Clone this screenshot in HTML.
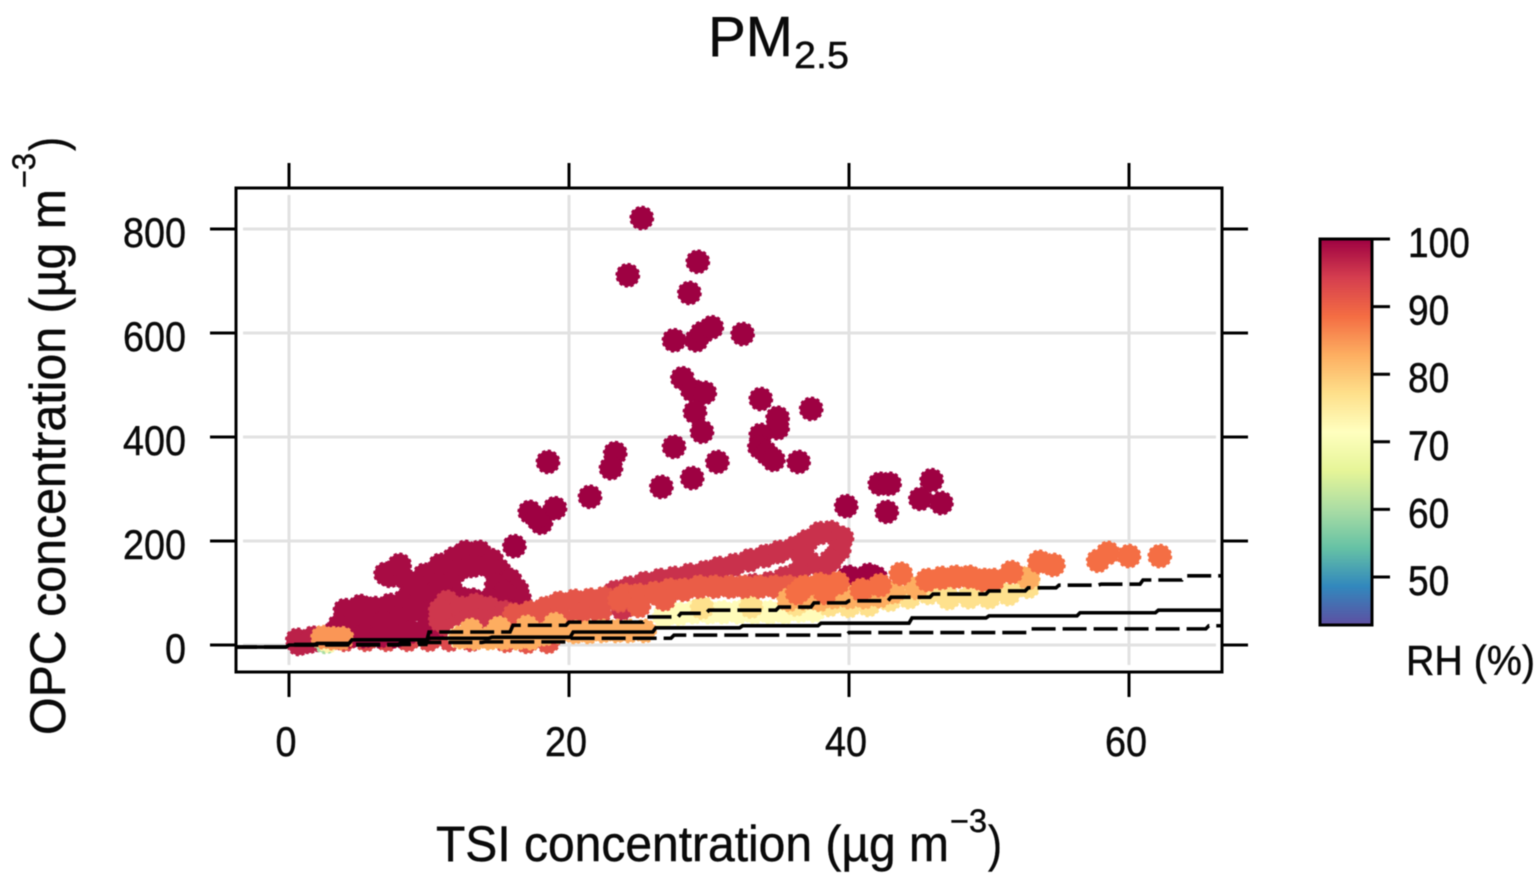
<!DOCTYPE html>
<html lang="en">
<head>
<meta charset="utf-8">
<title>PM2.5 TSI vs OPC concentration</title>
<style>
html,body{margin:0;padding:0;background:#fff;width:1540px;height:878px;overflow:hidden}
svg{display:block;filter:blur(.5px)}
text{font-family:"Liberation Sans",Arial,sans-serif;fill:#0a0a0a;stroke:#0a0a0a;stroke-width:.45px}
</style>
</head>
<body>
<svg id="chart" xmlns="http://www.w3.org/2000/svg" width="1540" height="878" viewBox="0 0 1540 878">
  <defs>
    <linearGradient id="rhGradient" x1="0" y1="1" x2="0" y2="0"></linearGradient>
    <clipPath id="plotClip"><rect x="236" y="188" width="986" height="484"></rect></clipPath>
  </defs>
  <g id="titleGroup">
    <text x="708" y="56" font-size="57" textLength="85" lengthAdjust="spacingAndGlyphs">PM</text>
    <text x="794" y="68" font-size="38" textLength="55" lengthAdjust="spacingAndGlyphs">2.5</text>
  </g>
  <g id="gridLayer"></g>
  <g id="markLayer" clip-path="url(#plotClip)"></g>
  <g id="fitLayer" clip-path="url(#plotClip)"></g>
  <rect x="236" y="188" width="986" height="484" fill="none" stroke="#000" stroke-width="3"></rect>
  <g id="axisLayer"></g>
  <g>
    <text transform="translate(65 735) rotate(-90)" font-size="50" textLength="546" lengthAdjust="spacingAndGlyphs">OPC concentration (µg m</text>
    <text transform="translate(35 188) rotate(-90)" font-size="32" textLength="35" lengthAdjust="spacingAndGlyphs">−3</text>
    <text transform="translate(65 151) rotate(-90)" font-size="50" textLength="14" lengthAdjust="spacingAndGlyphs">)</text>
  </g>
  <g>
    <text x="436" y="861" font-size="50" textLength="513" lengthAdjust="spacingAndGlyphs">TSI concentration (µg m</text>
    <text x="950" y="832" font-size="32" textLength="37" lengthAdjust="spacingAndGlyphs">−3</text>
    <text x="988" y="861" font-size="50" textLength="14" lengthAdjust="spacingAndGlyphs">)</text>
  </g>
  <g id="legendLayer"></g>
  <text x="1406" y="675" font-size="42" textLength="129" lengthAdjust="spacingAndGlyphs">RH (%)</text>
</svg>
<script>
// Axis ticks
const xTicks = [0, 20, 40, 60];
const yTicks = [0, 200, 400, 600, 800];
const rhTicks = [100, 90, 80, 70, 60, 50];

// Spectral colour ramp (low to high RH)
const spectralColors = ['#5e4fa2','#3288bd','#66c2a5','#abdda4','#e6f598','#ffffbf','#fee08b','#fdae61','#f46d43','#d53e4f','#9e0142'];

// Fit lines (stepped)
const midTsi   = [-4, 0, 2, 4.5, 10, 14.5, 20.3, 26.2, 32.4, 38, 44.5, 50, 56.5, 62.1, 67];
const midOpc   = [-4, 0, 3, 10, 13, 15, 25, 33, 37, 42, 52, 56, 62, 67, 67];
const upperTsi = [-4, 0, 10, 16, 20, 25.5, 28, 30, 35, 37.5, 40, 43, 46, 50, 52.8, 55, 58, 61, 64, 67];
const upperOpc = [-4, 1, 25, 38, 44, 54, 61, 67, 73, 81, 85, 92, 98, 104, 110, 115, 117, 125, 133, 133];
const lowerTsi = [-4, 0, 8, 14, 20, 27.5, 40, 52.9, 65.7, 67];
const lowerOpc = [-4, 0, 5, 6, 13, 19, 24, 31, 37, 37];

// Scatter series: RH level, TSI values, OPC values
const darkRh = 100;
const darkTsi = [25.2,29.2,24.2,28.6,27.5,29.1,29.5,30.2,32.4,28.1,28.8,29.7,29.0,29.5,27.5,30.6,28.8,26.6,33.7,34.9,34.9,33.7,33.6,34.1,34.6,36.4,37.3,23.3,23.0,18.5,21.5,17.2,18.0,19.0,17.7,16.1,39.8,42.2,42.9,42.7,45.9,45.1,46.6,41.4,40.0,40.7,41.9];
const darkOpc = [821,737,711,677,586,586,600,611,598,513,490,485,448,410,381,352,321,304,473,437,417,404,381,369,356,352,454,369,340,352,285,256,235,263,244,190,267,310,310,256,317,281,273,135,131,125,130];

const rowRh = 93;
const rowTsi = [4,5.5,7,8.5,10,11.5,13];
const rowOpc = [10,10,10,10,10,10,10];

const blobRh = 99;
const blobTsi = [7.7,7.2,8.6,9.7,10.8,11.8,12.6,13.6,14.5,15.0,15.8,16.3,16.5,12.1,14.2,11.5,14.8,15.4,13.1,12.1,14.3,10.8,10.0,11.1,4.0,5.1,6.1,7.2,8.3,9.3,3.6,4.7,5.8,6.8,7.9,9.0,10.1,11.1,4.4,5.4,6.5,7.6,8.6,9.7,10.8,11.8,3.3,6.9,7.9,7.9,9.0,13.1,15.2];
const blobOpc = [146,133,121,135,154,167,179,179,163,144,125,106,87,144,152,117,115,102,87,92,87,115,96,87,67,75,71,77,87,102,38,44,44,44,52,67,63,63,17,17,17,17,25,29,33,38,25,137,135,154,115,152,75];

const edgeRh = 97;
const edgeTsi = [0.6,1.4,0.7,2.1,1.7];
const edgeOpc = [10,6,2,10,14];

const loopRh = 95.5;
const loopTsi = [23.3,24.3,25.4,26.5,27.5,28.6,29.7,30.7,31.8,32.9,34.0,35.0,36.1,37.0,37.9,38.7,39.5,39.3,38.7,38.2,37.2,36.4,35.4,34.3,33.2,36.7,23.8];
const loopOpc = [102,110,119,125,129,135,140,148,154,163,171,179,187,200,215,217,206,183,163,148,158,140,129,119,115,173,70];

const brownRh = 95;
const brownTsi = [11.3,11.5,12.3,13.3,14.3,15.4,12.6,13.6,14.7,11.3,10.8,10.8];
const brownOpc = [83,58,71,77,71,63,44,48,44,38,48,67];

const bandRh = 91.5;
const bandTsi = [16.1,17.2,18.3,19.3,20.4,21.5,22.5,16.5,17.9,19.3,20.8,22.2,23.6,15.5,17,18.5];
const bandOpc = [58,63,71,81,85,87,90,38,44,52,60,63,85,8,6,6];

const orangeRh = 90.5;
const orangeTsi = [24,25,26.1,27.2,28.2,29.3,30.4,31.5,32.5,33.6,34.7,35.7,25,26.8,23.6];
const orangeOpc = [96,96,100,106,106,112,112,112,112,112,112,112,75,88,88];

const warmRh = 88.5;
const warmTsi = [36.8,37.9,39.2,36.3,38.3,40.9,42.2,43.7,45.6,46.6,47.6,48.6,49.6,50.3,51.6,53.6,54.6,57.8,58.5,60,62.2];
const warmOpc = [112,117,119,100,100,106,115,137,125,129,131,131,125,125,140,160,154,162,177,171,171];

const paleRh = 72;
const paleTsi = [26.8,27.9,28.9,30,31,32.1,33.2,34.3,35.4,36.5,37.5,12.2];
const paleOpc = [55,60,63,63,63,63,63,63,63,66,66,15];

const yellowRh = 77;
const yellowTsi = [38.6,40,41.4,42.9,44.3,45.7,47.1,48.6,50,51.4,52.8,29.5,33,36.2];
const yellowOpc = [77,75,77,87,92,100,90,92,92,98,112,72,74,78];

const lightRh = 83;
const lightTsi = [35.7,36.8,37.9,38.9,40,41.1,42.2,43.2,44.8,52.8];
const lightOpc = [87,90,87,92,92,92,94,102,110,129];

const stripRh = 83;
const stripTsi = [12.3,13.3,14.3,15.3,16.3,17.3,18.3,19.3,20.4,21.4,22.4,23.4,24.3,25.4,13,15,17,19];
const stripOpc = [15,13,13,13,13,13,21,25,25,25,27,27,27,27,29,33,35,40];

const greenRh = 60;
const greenTsi = [2.6];
const greenOpc = [6];

const paleLeftRh = 73;
const paleLeftTsi = [2.8];
const paleLeftOpc = [8];

const amberRh = 85;
const amberTsi = [3.1,2.4,3.8];
const amberOpc = [13,15,13];

// Axis and colour scales
function xScale(v){ return 289 + v * 14.0; }
function yScale(v){ return 645 - v * 0.52; }
function rhScale(v){ return 239 + (100 - v) * 6.76; }
function hexToRgb(h){ return [1,3,5].map(function(i){ return parseInt(h.substr(i,2),16); }); }
function rhColor(v){
  var t = (v - 43) / 57 * (spectralColors.length - 1);
  t = Math.max(0, Math.min(spectralColors.length - 1, t));
  var i = Math.min(Math.floor(t), spectralColors.length - 2);
  var a = hexToRgb(spectralColors[i]), b = hexToRgb(spectralColors[i + 1]), f = t - i;
  return 'rgb(' + a.map(function(c, k){ return Math.round(c + (b[k] - c) * f); }).join(',') + ')';
}
const NS = 'http://www.w3.org/2000/svg';
function make(tag, attrs, parent){
  var el = document.createElementNS(NS, tag);
  Object.keys(attrs).forEach(function(k){ el.setAttribute(k, attrs[k]); });
  parent.appendChild(el);
  return el;
}
const gridLayer = document.getElementById('gridLayer');
const axisLayer = document.getElementById('axisLayer');
const markLayer = document.getElementById('markLayer');
const fitLayer = document.getElementById('fitLayer');
const legendLayer = document.getElementById('legendLayer');

// Grid and ticks
xTicks.forEach(function(t){
  var x = xScale(t);
  var g = make('line', {x1:x, x2:x, y1:195, y2:665, stroke:'#e2e2e2', 'stroke-width':3}, gridLayer);
  
  
  var top = make('line', {x1:x, x2:x, y1:188, y2:163, stroke:'#000', 'stroke-width':3}, axisLayer);
  
  
  var bot = make('line', {x1:x, x2:x, y1:672, y2:697, stroke:'#000', 'stroke-width':3}, axisLayer);
  
  
  var lab = make('text', {x:x - 3, y:756, 'font-size':42, 'text-anchor':'middle', textLength:String(t).length * 21, lengthAdjust:'spacingAndGlyphs'}, axisLayer);
  
  
  lab.textContent = t;
});
yTicks.forEach(function(t){
  var y = yScale(t);
  var g = make('line', {x1:243, x2:1216, y1:y, y2:y, stroke:'#e2e2e2', 'stroke-width':3}, gridLayer);
  
  
  var left = make('line', {x1:236, x2:210, y1:y, y2:y, stroke:'#000', 'stroke-width':3}, axisLayer);
  
  
  var right = make('line', {x1:1222, x2:1248, y1:y, y2:y, stroke:'#000', 'stroke-width':3}, axisLayer);
  
  
  var lab = make('text', {x:186, y:y + 18, 'font-size':42, 'text-anchor':'end', textLength:String(t).length * 21, lengthAdjust:'spacingAndGlyphs'}, axisLayer);
  
  
  lab.textContent = t;
});

// Scatter points
function drawSeries(name, rh, tsi, opc){
  tsi.forEach(function(v, i){
    var c = make('circle', {cx:xScale(v), cy:yScale(opc[i]), r:11.2, fill:rhColor(rh), stroke:rhColor(rh), 'stroke-width':2.4, 'stroke-dasharray':'3.2 2.6'}, markLayer);
    
    
  });
}
drawSeries('rh100', darkRh, darkTsi, darkOpc);
drawSeries('rh93', rowRh, rowTsi, rowOpc);
drawSeries('rh99', blobRh, blobTsi, blobOpc);
drawSeries('rh97', edgeRh, edgeTsi, edgeOpc);
drawSeries('rh95-loop', loopRh, loopTsi, loopOpc);
drawSeries('rh95', brownRh, brownTsi, brownOpc);
drawSeries('rh91', bandRh, bandTsi, bandOpc);
drawSeries('rh60', greenRh, greenTsi, greenOpc);
drawSeries('rh73', paleLeftRh, paleLeftTsi, paleLeftOpc);
drawSeries('rh85', amberRh, amberTsi, amberOpc);
drawSeries('rh72', paleRh, paleTsi, paleOpc);
drawSeries('rh77', yellowRh, yellowTsi, yellowOpc);
drawSeries('rh90', orangeRh, orangeTsi, orangeOpc);
drawSeries('rh83-light', lightRh, lightTsi, lightOpc);
drawSeries('rh88', warmRh, warmTsi, warmOpc);
drawSeries('rh83', stripRh, stripTsi, stripOpc);

// Fit lines
function stepPath(xs, ys){
  var d = 'M' + xScale(xs[0]) + ' ' + yScale(ys[0]);
  for (var i = 1; i < xs.length; i++){
    d += 'L' + (xScale(xs[i]) - 3) + ' ' + yScale(ys[i - 1]);
    d += 'L' + xScale(xs[i]) + ' ' + yScale(ys[i]);
  }
  return d;
}
var midLine = make('path', {d:stepPath(midTsi, midOpc), fill:'none', stroke:'#000', 'stroke-width':3.6}, fitLayer);


var upperLine = make('path', {d:stepPath(upperTsi, upperOpc), fill:'none', stroke:'#000', 'stroke-width':3.6, 'stroke-dasharray':'24 7'}, fitLayer);


var lowerLine = make('path', {d:stepPath(lowerTsi, lowerOpc), fill:'none', stroke:'#000', 'stroke-width':3.6, 'stroke-dasharray':'24 7'}, fitLayer);



// Colour bar
const rhGradient = document.getElementById('rhGradient');
spectralColors.forEach(function(col, i){
  make('stop', {offset:(i / (spectralColors.length - 1)), 'stop-color':col}, rhGradient);
});
var bar = make('rect', {x:1320, y:239, width:52, height:386, fill:'url(#rhGradient)', stroke:'#000', 'stroke-width':3}, legendLayer);


rhTicks.forEach(function(t){
  var y = rhScale(t);
  var tick = make('line', {x1:1372, x2:1390, y1:y, y2:y, stroke:'#000', 'stroke-width':3}, legendLayer);
  
  
  var lab = make('text', {x:1408, y:y + 18, 'font-size':42, textLength:String(t).length * 20.6, lengthAdjust:'spacingAndGlyphs'}, legendLayer);
  
  
  lab.textContent = t;
});
</script>
</body>
</html>
